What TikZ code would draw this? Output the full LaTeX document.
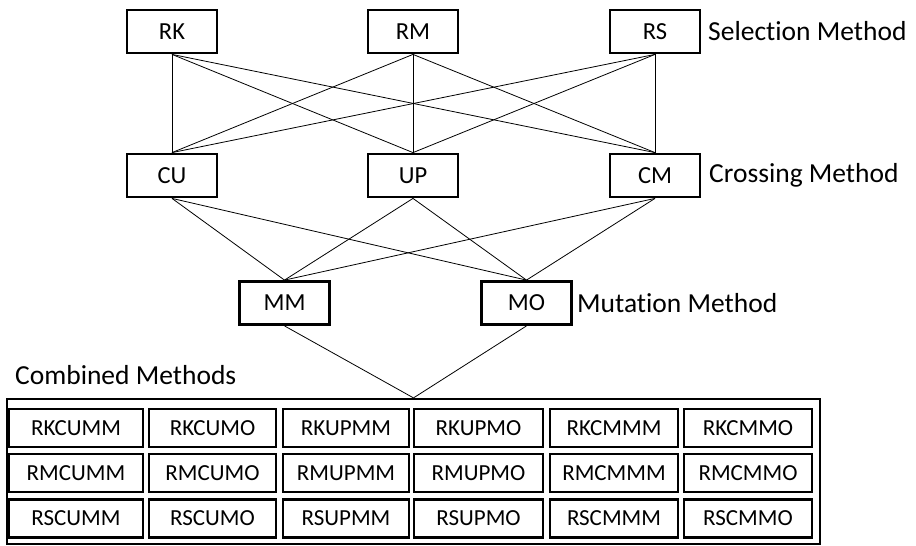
\documentclass[tikz,border=0pt]{standalone}
\usepackage{fontspec}
\setmainfont{Carlito}[Ligatures=NoCommon]
\begin{document}
\begin{tikzpicture}[x=1pt,y=-1pt,
  method/.style={draw,line width=2.8pt,minimum width=90pt,minimum height=43pt,inner sep=0pt,font=\fontsize{24.5}{27}\selectfont},
  combo/.style={draw,line width=2.6pt,minimum height=38pt,inner sep=0pt,font=\fontsize{23}{26}\selectfont},
  group/.style={anchor=west,inner sep=0pt,font=\fontsize{27.5}{30}\selectfont},
  link/.style={line width=0.8pt}]
\useasboundingbox (0,0) rectangle (916,546);

% selection methods
\node[method] (RK) at (172,31.5) {RK};
\node[method] (RM) at (413,31.5) {RM};
\node[method] (RS) at (655,31.5) {RS};
\node[group] (sel) at (708,31) {Selection Method};

% crossing methods
\node[method] (CU) at (172,175.5) {CU};
\node[method] (UP) at (413,175.5) {UP};
\node[method] (CM) at (655,175.5) {CM};
\node[group] (cro) at (709,175.5) {Crossing Method};

% mutation methods
\node[method] (MM) at (284.5,303) {MM};
\node[method] (MO) at (526.5,303) {MO};
\node[group] (mut) at (577,303) {Mutation Method};

% combined methods table
\node[draw,line width=2.2pt,minimum width=813pt,minimum height=145pt,inner sep=0pt] (combined) at (413.5,471.5) {};
\node[group] (comb) at (15,375) {Combined Methods};

\foreach \s/\sy in {RK/428,RM/473,RS/518.5}{
  \foreach \c/\m/\cx/\w in {CU/MM/76/134,CU/MO/212.5/127,UP/MM/346/126,UP/MO/478.5/129,CM/MM/614/128,CM/MO/748/128}{
    \node[combo,minimum width=\w pt] (\s\c\m) at (\cx,\sy) {\s\c\m};
  }
}

% connectors between levels
\foreach \a in {RK,RM,RS}{
  \foreach \b in {CU,UP,CM}{
    \draw[link] (\a.south) -- (\b.north);
  }
}
\foreach \a in {CU,UP,CM}{
  \foreach \b in {MM,MO}{
    \draw[link] (\a.south) -- (\b.north);
  }
}
\draw[link] (MM.south) -- (combined.north);
\draw[link] (MO.south) -- (combined.north);
\end{tikzpicture}
\end{document}
